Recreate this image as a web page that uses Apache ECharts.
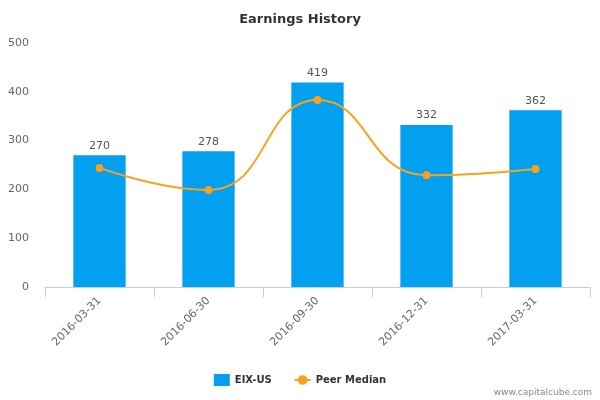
<!DOCTYPE html>
<html>
<head>
<meta charset="utf-8">
<script src="https://cdn.jsdelivr.net/npm/echarts@6/dist/echarts.min.js"></script>
<style>
    html, body { margin: 0; padding: 0; background: #fff; }
    #chart { width: 600px; height: 400px; }
</style>
</head>
<body>
<div id="chart"></div>
<script>
var categories = ['2016-03-31', '2016-06-30', '2016-09-30', '2016-12-31', '2017-03-31'];
var eixValues = [270, 278, 419, 332, 362];
var peerMedian = [244, 199, 383, 229, 242];
var yTicks = [0, 100, 200, 300, 400, 500];

var barColor = '#03a0ef';
var lineColor = '#f9a11b';
var fontName = 'DejaVu Sans';

var myChart = echarts.init(document.getElementById('chart'));
var option = {
    animation: false,
    textStyle: { fontFamily: fontName },
    title: {
        text: 'Earnings History',
        left: 'center',
        top: 8,
        textStyle: { fontSize: 13, fontWeight: 'bold', color: '#333', fontFamily: fontName }
    },
    legend: {
        bottom: 9,
        left: 'center',
        itemWidth: 16,
        itemHeight: 12,
        itemGap: 22,
        textStyle: { fontSize: 10, fontWeight: 'bold', color: '#333', fontFamily: fontName },
        data: [
            { name: 'EIX-US', icon: 'rect' },
            { name: 'Peer Median' }
        ]
    },
    graphic: [{
        type: 'text',
        right: 8,
        bottom: 3,
        style: { text: 'www.capitalcube.com', fontSize: 9, fill: '#888', fontFamily: fontName }
    }],
    grid: { left: 45, right: 10, top: 43, bottom: 113 },
    xAxis: {
        type: 'category',
        data: categories,
        axisLine: { lineStyle: { color: '#c0d0e0' } },
        axisTick: { show: true, length: 10, lineStyle: { color: '#c0d0e0' } },
        axisLabel: { rotate: 45, fontSize: 11, color: '#666', margin: 12, fontFamily: fontName }
    },
    yAxis: {
        type: 'value',
        min: yTicks[0],
        max: yTicks[yTicks.length - 1],
        interval: 100,
        splitLine: { show: false },
        axisLine: { show: false },
        axisTick: { show: false },
        axisLabel: { fontSize: 11, color: '#666', margin: 16, fontFamily: fontName }
    },
    series: [
        {
            name: 'EIX-US',
            type: 'bar',
            data: eixValues,
            barWidth: '48%',
            itemStyle: { color: barColor },
            label: { show: true, position: 'top', fontSize: 11, color: '#555', distance: 4, fontFamily: fontName }
        },
        {
            name: 'Peer Median',
            type: 'line',
            data: peerMedian,
            smooth: 0.5,
            symbol: 'circle',
            symbolSize: 8,
            lineStyle: { color: lineColor, width: 2 },
            itemStyle: { color: lineColor }
        }
    ]
};
myChart.setOption(option);
</script>
</body>
</html>
